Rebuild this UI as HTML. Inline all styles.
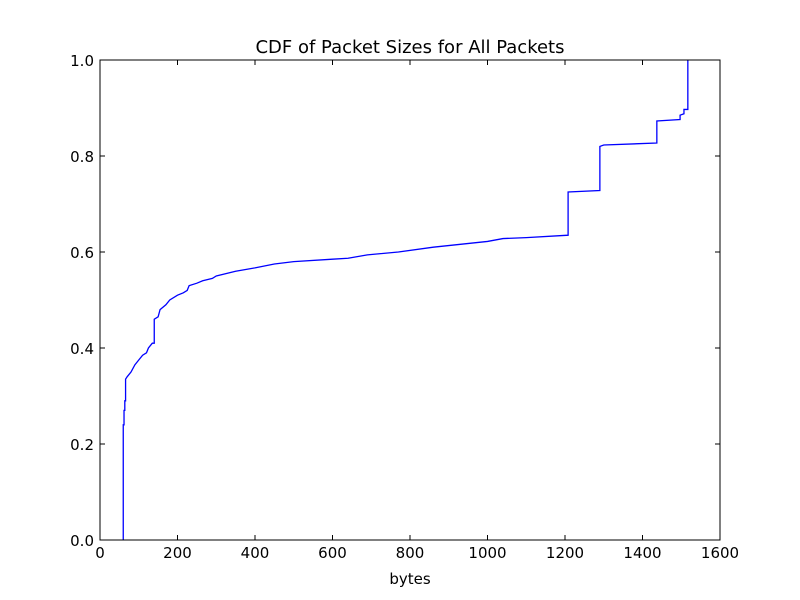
<!DOCTYPE html>
<html><head><meta charset="utf-8"><style>
body{margin:0;background:#fff;}
svg{display:block;font-family:"DejaVu Sans","Liberation Sans",sans-serif;}
</style></head><body>
<svg id="chart" width="800" height="600" viewBox="0 0 800 600">
<rect width="800" height="600" fill="#fff"/>
<text x="410" y="53" font-size="18" text-anchor="middle">CDF of Packet Sizes for All Packets</text>
<text x="410" y="584" font-size="15" text-anchor="middle">bytes</text>
<g id="ticks"></g>
<polyline id="cdf" fill="none" stroke="#0000ff" stroke-width="1.3"/>
<rect x="100" y="60" width="620" height="480" fill="none" stroke="#000" stroke-width="1"/>
</svg>
<script>
const sizes = [60,60,62,62,64,64,66,66,70,80,90,100,110,120,125,135,140,140,150,155,170,180,200,215,225,230,250,265,290,300,350,400,450,500,600,640,690,770,860,1000,1040,1100,1208,1208,1290,1290,1300,1437,1437,1497,1497,1507,1507,1517,1517];
const cdf = [0,0.24,0.24,0.27,0.27,0.29,0.29,0.335,0.34,0.35,0.365,0.375,0.385,0.39,0.40,0.41,0.41,0.46,0.465,0.48,0.49,0.50,0.51,0.515,0.52,0.53,0.535,0.54,0.545,0.55,0.56,0.567,0.575,0.58,0.585,0.587,0.594,0.60,0.61,0.622,0.628,0.63,0.635,0.725,0.728,0.82,0.823,0.827,0.873,0.876,0.885,0.888,0.897,0.897,1.0];
const xTicks = [0,200,400,600,800,1000,1200,1400,1600];
const yTicks = [0,0.2,0.4,0.6,0.8,1.0];
const X = v => 100 + v/1600*620;
const Y = v => 540 - v*480;
const NS = "http://www.w3.org/2000/svg";
const line = document.getElementById('cdf');
line.setAttribute('points', sizes.map((s,i)=>X(s)+','+Y(cdf[i])).join(' '));
const g = document.getElementById('ticks');
function mk(tag, attrs){const e=document.createElementNS(NS,tag);for(const k in attrs)e.setAttribute(k,attrs[k]);g.appendChild(e);return e;}
xTicks.forEach(t=>{
  const x=X(t);
  const a=mk('line',{x1:x,x2:x,y1:540,y2:535,stroke:'#000'});
  
  
  const b=mk('line',{x1:x,x2:x,y1:60,y2:65,stroke:'#000'});
  
  
  const tx=mk('text',{x:x,y:558,'font-size':15,'text-anchor':'middle'});
  tx.textContent=t;
  
  
});
yTicks.forEach(t=>{
  const y=Y(t);
  const a=mk('line',{x1:100,x2:105,y1:y,y2:y,stroke:'#000'});
  
  
  const b=mk('line',{x1:715,x2:720,y1:y,y2:y,stroke:'#000'});
  
  
  const tx=mk('text',{x:94,y:y+6,'font-size':15,'text-anchor':'end'});
  tx.textContent=t.toFixed(1);
  
  
});
</script>
</body></html>
